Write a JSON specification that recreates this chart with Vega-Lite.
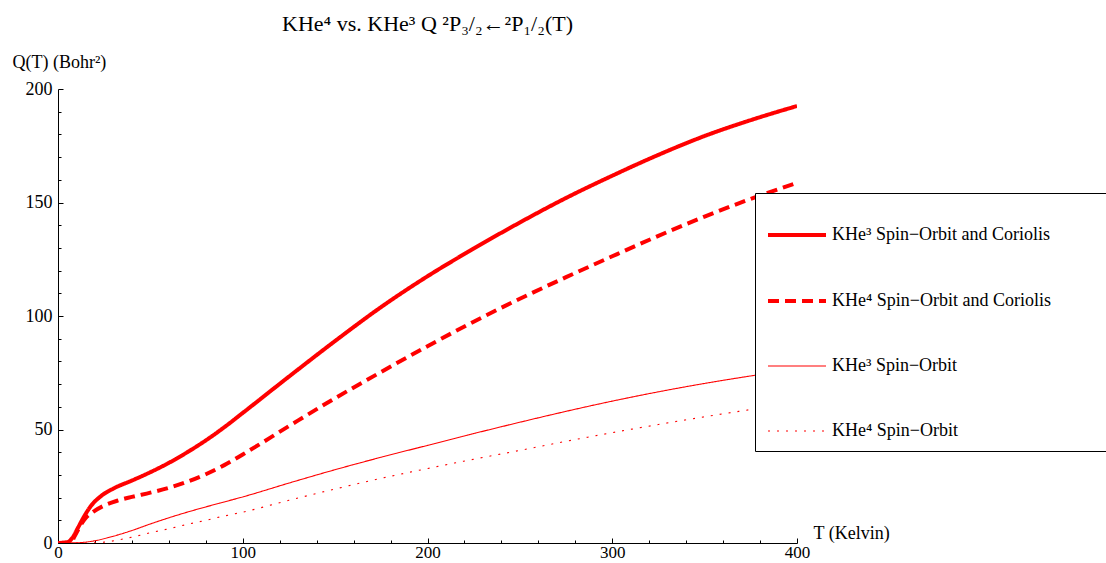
{
  "$schema": "https://vega.github.io/schema/vega-lite/v6.json",
  "width": 739,
  "height": 454,
  "autosize": "none",
  "padding": {"left": 58, "top": 89, "right": 309, "bottom": 20},
  "background": "white",
  "config": {
    "view": {"stroke": null},
    "font": "Liberation Serif",
    "axis": {"grid": false, "domainColor": "black", "tickColor": "black", "labelColor": "black", "titleColor": "black", "labelFont": "Liberation Serif", "titleFont": "Liberation Serif", "labelFontSize": 18, "titleFontSize": 18, "titleFontWeight": "normal", "labelFlush": false}
  },
  "title": {"text": "KHe⁴ vs. KHe³ Q ²P₃/₂←²P₁/₂(T)", "font": "Liberation Serif", "fontSize": 22, "fontWeight": "normal", "color": "black", "anchor": "middle", "frame": "group", "baseline": "alphabetic", "offset": 0},
  "data": {"values": [
    {"s": "KHe³ Spin−Orbit and Coriolis", "T": 0, "Q": 0},
    {"s": "KHe³ Spin−Orbit and Coriolis", "T": 5, "Q": 0.3},
    {"s": "KHe³ Spin−Orbit and Coriolis", "T": 8, "Q": 2.5},
    {"s": "KHe³ Spin−Orbit and Coriolis", "T": 11, "Q": 7},
    {"s": "KHe³ Spin−Orbit and Coriolis", "T": 14, "Q": 11.5},
    {"s": "KHe³ Spin−Orbit and Coriolis", "T": 18, "Q": 16.5},
    {"s": "KHe³ Spin−Orbit and Coriolis", "T": 23, "Q": 20.5},
    {"s": "KHe³ Spin−Orbit and Coriolis", "T": 30, "Q": 24},
    {"s": "KHe³ Spin−Orbit and Coriolis", "T": 40, "Q": 27.5},
    {"s": "KHe³ Spin−Orbit and Coriolis", "T": 50, "Q": 31.2},
    {"s": "KHe³ Spin−Orbit and Coriolis", "T": 60, "Q": 35.3},
    {"s": "KHe³ Spin−Orbit and Coriolis", "T": 70, "Q": 40},
    {"s": "KHe³ Spin−Orbit and Coriolis", "T": 80, "Q": 45.2},
    {"s": "KHe³ Spin−Orbit and Coriolis", "T": 90, "Q": 51},
    {"s": "KHe³ Spin−Orbit and Coriolis", "T": 100, "Q": 57.3},
    {"s": "KHe³ Spin−Orbit and Coriolis", "T": 125, "Q": 73.3},
    {"s": "KHe³ Spin−Orbit and Coriolis", "T": 150, "Q": 89},
    {"s": "KHe³ Spin−Orbit and Coriolis", "T": 175, "Q": 104},
    {"s": "KHe³ Spin−Orbit and Coriolis", "T": 200, "Q": 117.5},
    {"s": "KHe³ Spin−Orbit and Coriolis", "T": 225, "Q": 129.7},
    {"s": "KHe³ Spin−Orbit and Coriolis", "T": 250, "Q": 141.2},
    {"s": "KHe³ Spin−Orbit and Coriolis", "T": 275, "Q": 152},
    {"s": "KHe³ Spin−Orbit and Coriolis", "T": 300, "Q": 161.8},
    {"s": "KHe³ Spin−Orbit and Coriolis", "T": 325, "Q": 171},
    {"s": "KHe³ Spin−Orbit and Coriolis", "T": 350, "Q": 179.3},
    {"s": "KHe³ Spin−Orbit and Coriolis", "T": 375, "Q": 186.3},
    {"s": "KHe³ Spin−Orbit and Coriolis", "T": 400, "Q": 192.5},

    {"s": "KHe⁴ Spin−Orbit and Coriolis", "T": 0, "Q": 0},
    {"s": "KHe⁴ Spin−Orbit and Coriolis", "T": 7, "Q": 0.3},
    {"s": "KHe⁴ Spin−Orbit and Coriolis", "T": 9, "Q": 3},
    {"s": "KHe⁴ Spin−Orbit and Coriolis", "T": 12, "Q": 7.5},
    {"s": "KHe⁴ Spin−Orbit and Coriolis", "T": 15, "Q": 11},
    {"s": "KHe⁴ Spin−Orbit and Coriolis", "T": 19, "Q": 13.7},
    {"s": "KHe⁴ Spin−Orbit and Coriolis", "T": 25, "Q": 16.5},
    {"s": "KHe⁴ Spin−Orbit and Coriolis", "T": 32, "Q": 18.6},
    {"s": "KHe⁴ Spin−Orbit and Coriolis", "T": 40, "Q": 20.3},
    {"s": "KHe⁴ Spin−Orbit and Coriolis", "T": 50, "Q": 22.2},
    {"s": "KHe⁴ Spin−Orbit and Coriolis", "T": 60, "Q": 24.3},
    {"s": "KHe⁴ Spin−Orbit and Coriolis", "T": 70, "Q": 27},
    {"s": "KHe⁴ Spin−Orbit and Coriolis", "T": 80, "Q": 30.3},
    {"s": "KHe⁴ Spin−Orbit and Coriolis", "T": 90, "Q": 34.3},
    {"s": "KHe⁴ Spin−Orbit and Coriolis", "T": 100, "Q": 39},
    {"s": "KHe⁴ Spin−Orbit and Coriolis", "T": 125, "Q": 51.5},
    {"s": "KHe⁴ Spin−Orbit and Coriolis", "T": 150, "Q": 63.8},
    {"s": "KHe⁴ Spin−Orbit and Coriolis", "T": 175, "Q": 75.4},
    {"s": "KHe⁴ Spin−Orbit and Coriolis", "T": 200, "Q": 86.7},
    {"s": "KHe⁴ Spin−Orbit and Coriolis", "T": 225, "Q": 97.5},
    {"s": "KHe⁴ Spin−Orbit and Coriolis", "T": 250, "Q": 107.6},
    {"s": "KHe⁴ Spin−Orbit and Coriolis", "T": 275, "Q": 117.1},
    {"s": "KHe⁴ Spin−Orbit and Coriolis", "T": 300, "Q": 126.3},
    {"s": "KHe⁴ Spin−Orbit and Coriolis", "T": 325, "Q": 135.3},
    {"s": "KHe⁴ Spin−Orbit and Coriolis", "T": 350, "Q": 143.8},
    {"s": "KHe⁴ Spin−Orbit and Coriolis", "T": 375, "Q": 151.6},
    {"s": "KHe⁴ Spin−Orbit and Coriolis", "T": 400, "Q": 158.6},

    {"s": "KHe³ Spin−Orbit", "T": 0, "Q": 0},
    {"s": "KHe³ Spin−Orbit", "T": 10, "Q": 0.1},
    {"s": "KHe³ Spin−Orbit", "T": 20, "Q": 1},
    {"s": "KHe³ Spin−Orbit", "T": 30, "Q": 3},
    {"s": "KHe³ Spin−Orbit", "T": 40, "Q": 5.5},
    {"s": "KHe³ Spin−Orbit", "T": 50, "Q": 8.4},
    {"s": "KHe³ Spin−Orbit", "T": 60, "Q": 11.1},
    {"s": "KHe³ Spin−Orbit", "T": 70, "Q": 13.6},
    {"s": "KHe³ Spin−Orbit", "T": 80, "Q": 15.9},
    {"s": "KHe³ Spin−Orbit", "T": 90, "Q": 18.1},
    {"s": "KHe³ Spin−Orbit", "T": 100, "Q": 20.3},
    {"s": "KHe³ Spin−Orbit", "T": 125, "Q": 26.4},
    {"s": "KHe³ Spin−Orbit", "T": 150, "Q": 32.3},
    {"s": "KHe³ Spin−Orbit", "T": 175, "Q": 37.8},
    {"s": "KHe³ Spin−Orbit", "T": 200, "Q": 43},
    {"s": "KHe³ Spin−Orbit", "T": 225, "Q": 48.2},
    {"s": "KHe³ Spin−Orbit", "T": 250, "Q": 53.2},
    {"s": "KHe³ Spin−Orbit", "T": 275, "Q": 58},
    {"s": "KHe³ Spin−Orbit", "T": 300, "Q": 62.5},
    {"s": "KHe³ Spin−Orbit", "T": 325, "Q": 66.6},
    {"s": "KHe³ Spin−Orbit", "T": 350, "Q": 70.3},
    {"s": "KHe³ Spin−Orbit", "T": 375, "Q": 73.6},
    {"s": "KHe³ Spin−Orbit", "T": 400, "Q": 76.6},

    {"s": "KHe⁴ Spin−Orbit", "T": 0, "Q": 0},
    {"s": "KHe⁴ Spin−Orbit", "T": 15, "Q": 0},
    {"s": "KHe⁴ Spin−Orbit", "T": 25, "Q": 0.4},
    {"s": "KHe⁴ Spin−Orbit", "T": 40, "Q": 2.6},
    {"s": "KHe⁴ Spin−Orbit", "T": 50, "Q": 4.5},
    {"s": "KHe⁴ Spin−Orbit", "T": 60, "Q": 6.3},
    {"s": "KHe⁴ Spin−Orbit", "T": 70, "Q": 8.2},
    {"s": "KHe⁴ Spin−Orbit", "T": 80, "Q": 10},
    {"s": "KHe⁴ Spin−Orbit", "T": 90, "Q": 11.9},
    {"s": "KHe⁴ Spin−Orbit", "T": 100, "Q": 13.6},
    {"s": "KHe⁴ Spin−Orbit", "T": 125, "Q": 18.8},
    {"s": "KHe⁴ Spin−Orbit", "T": 150, "Q": 23.8},
    {"s": "KHe⁴ Spin−Orbit", "T": 175, "Q": 28.5},
    {"s": "KHe⁴ Spin−Orbit", "T": 200, "Q": 32.8},
    {"s": "KHe⁴ Spin−Orbit", "T": 225, "Q": 36.9},
    {"s": "KHe⁴ Spin−Orbit", "T": 250, "Q": 40.8},
    {"s": "KHe⁴ Spin−Orbit", "T": 275, "Q": 44.8},
    {"s": "KHe⁴ Spin−Orbit", "T": 300, "Q": 48.6},
    {"s": "KHe⁴ Spin−Orbit", "T": 325, "Q": 52.2},
    {"s": "KHe⁴ Spin−Orbit", "T": 350, "Q": 55.6},
    {"s": "KHe⁴ Spin−Orbit", "T": 375, "Q": 58.8},
    {"s": "KHe⁴ Spin−Orbit", "T": 400, "Q": 61.8}
  ]},
  "resolve": {"axis": {"x": "independent", "y": "independent"}},
  "layer": [
    {
      "mark": {"type": "line", "interpolate": "monotone", "clip": true},
      "encoding": {
        "x": {"field": "T", "type": "quantitative", "scale": {"domain": [0, 400], "nice": false},
          "axis": {"orient": "bottom", "values": [0, 100, 200, 300, 400], "tickSize": -5, "labelPadding": 6, "labelFontSize": 17, "title": "T (Kelvin)", "titleAngle": 0, "titleAlign": "left", "titleBaseline": "alphabetic", "titleX": 755, "titleY": -5}},
        "y": {"field": "Q", "type": "quantitative", "scale": {"domain": [0, 200], "nice": false},
          "axis": {"orient": "left", "values": [0, 50, 100, 150, 200], "tickSize": -5, "labelPadding": 11, "title": "Q(T) (Bohr²)", "titleAngle": 0, "titleAlign": "left", "titleBaseline": "alphabetic", "titleX": -46, "titleY": -22}},
        "color": {"field": "s", "type": "nominal",
          "scale": {"domain": ["KHe³ Spin−Orbit and Coriolis", "KHe⁴ Spin−Orbit and Coriolis", "KHe³ Spin−Orbit", "KHe⁴ Spin−Orbit"], "range": ["#ff0000", "#ff0000", "#ff0000", "#ff0000"]},
          "legend": {"title": " ", "titleOrient": "right", "titlePadding": 60, "titleFontSize": 4, "orient": "none", "legendX": 697, "legendY": 104, "strokeColor": "black", "fillColor": "white", "padding": 11, "cornerRadius": 0, "rowPadding": 26, "symbolType": "stroke", "symbolSize": 3364, "labelFont": "Liberation Serif", "labelFontSize": 18, "labelColor": "black", "labelOffset": 4, "labelLimit": 400}},
        "strokeDash": {"field": "s", "type": "nominal",
          "scale": {"domain": ["KHe³ Spin−Orbit and Coriolis", "KHe⁴ Spin−Orbit and Coriolis", "KHe³ Spin−Orbit", "KHe⁴ Spin−Orbit"], "range": [[1, 0], [11, 6], [1, 0], [2, 7]]},
          "legend": {"title": " ", "titleOrient": "right", "titlePadding": 60, "titleFontSize": 4, "orient": "none", "legendX": 697, "legendY": 104, "strokeColor": "black", "fillColor": "white", "padding": 11, "cornerRadius": 0, "rowPadding": 26, "symbolType": "stroke", "symbolSize": 3364, "labelFont": "Liberation Serif", "labelFontSize": 18, "labelColor": "black", "labelOffset": 4, "labelLimit": 400}},
        "strokeWidth": {"field": "s", "type": "ordinal",
          "scale": {"type": "ordinal", "domain": ["KHe³ Spin−Orbit and Coriolis", "KHe⁴ Spin−Orbit and Coriolis", "KHe³ Spin−Orbit", "KHe⁴ Spin−Orbit"], "range": [4, 4, 1.1, 1.1]},
          "legend": {"title": " ", "titleOrient": "right", "titlePadding": 60, "titleFontSize": 4, "orient": "none", "legendX": 697, "legendY": 104, "strokeColor": "black", "fillColor": "white", "padding": 11, "cornerRadius": 0, "rowPadding": 26, "symbolType": "stroke", "symbolSize": 3364, "labelFont": "Liberation Serif", "labelFontSize": 18, "labelColor": "black", "labelOffset": 4, "labelLimit": 400}}
      }
    },
    {
      "mark": {"type": "line", "opacity": 0},
      "encoding": {
        "x": {"field": "T", "type": "quantitative",
          "axis": {"orient": "bottom", "values": [20, 40, 60, 80, 120, 140, 160, 180, 220, 240, 260, 280, 320, 340, 360, 380], "tickSize": -3, "labels": false, "domain": false, "title": null}},
        "y": {"field": "Q", "type": "quantitative",
          "axis": {"orient": "left", "values": [10, 20, 30, 40, 60, 70, 80, 90, 110, 120, 130, 140, 160, 170, 180, 190], "tickSize": -3, "labels": false, "domain": false, "title": null}},
        "detail": {"field": "s", "type": "nominal"}
      }
    }
  ]
}
